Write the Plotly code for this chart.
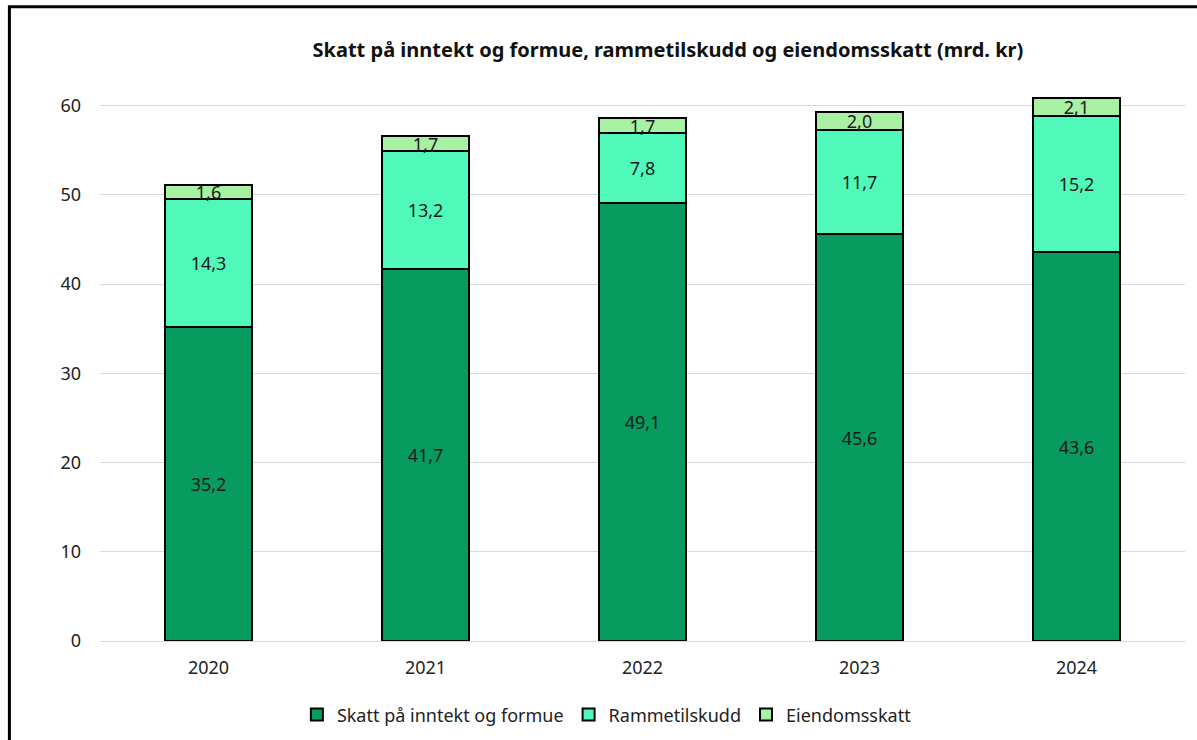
import plotly.graph_objects as go

# Data (mrd. kr)
years = ["2020", "2021", "2022", "2023", "2024"]
skatt = [35.2, 41.7, 49.1, 45.6, 43.6]
rammetilskudd = [14.3, 13.2, 7.8, 11.7, 15.2]
eiendomsskatt = [1.6, 1.7, 1.7, 2.0, 2.1]

series = [
    ("Skatt på inntekt og formue", skatt, "#089B5F"),
    ("Rammetilskudd", rammetilskudd, "#50F9B9"),
    ("Eiendomsskatt", eiendomsskatt, "#A8F0A2"),
]

font_family = "Noto Sans, Roboto, sans-serif"

fig = go.Figure()
for name, vals, color in series:
    fig.add_trace(go.Bar(
        x=years, y=vals, name=name,
        marker=dict(color=color, line=dict(color="black", width=2)),
        text=[f"{v:.1f}".replace(".", ",") for v in vals],
        textposition="inside", insidetextanchor="middle",
        constraintext="none",
        textfont=dict(size=18, color="#1a1a1a", family=font_family),
    ))

fig.update_layout(
    barmode="stack",
    bargap=0.6,
    width=1197, height=740,
    margin=dict(l=100, r=12, t=79, b=99),
    plot_bgcolor="white", paper_bgcolor="white",
    font=dict(family=font_family, size=18, color="#222222"),
    title=dict(
        text="<b>Skatt på inntekt og formue, rammetilskudd og eiendomsskatt (mrd. kr)</b>",
        x=0.558, xanchor="center", y=0.932, yanchor="middle",
        font=dict(size=20, color="#111111"),
    ),
    legend=dict(
        orientation="h", xref="container", yref="container",
        x=0.507, xanchor="center", y=0.034, yanchor="middle",
        font=dict(size=18), traceorder="normal", itemwidth=30,
    ),
    showlegend=True,
)
fig.update_yaxes(
    range=[0, 63], tickvals=[0, 10, 20, 30, 40, 50, 60],
    showgrid=True, gridcolor="#D9D9D9", gridwidth=1,
    zeroline=False, showline=False, ticklabelstandoff=18,
)
fig.update_xaxes(showline=True, linecolor="#D9D9D9", linewidth=1, ticklabelstandoff=10)

# outer frame (top and left visible)
fig.add_shape(type="rect", xref="paper", yref="paper",
              x0=-0.0835, x1=1.2, y0=-0.4, y1=1.1285,
              line=dict(color="black", width=3), fillcolor="rgba(0,0,0,0)")

fig.write_html("out.html", config={"displayModeBar": False},
               post_script="document.body.style.margin='0';")
